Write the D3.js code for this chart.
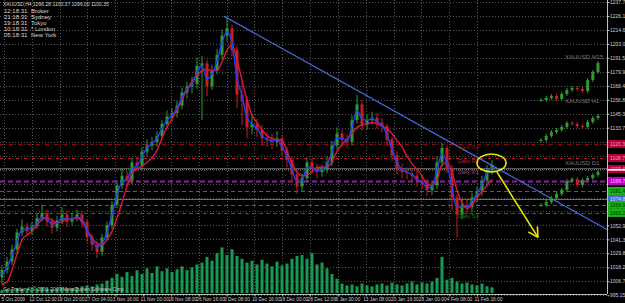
<!DOCTYPE html>
<html>
<head>
<meta charset="utf-8">
<script src="https://cdn.jsdelivr.net/npm/d3@7"></script>
<style>
html, body { margin: 0; padding: 0; background: #000; overflow: hidden; }
svg { display: block; }
text { font-family: "Liberation Sans", Arial, sans-serif; }
</style>
</head>
<body>
<div id="chart"></div>
<script>
// XAUUSD H4, Oct 2009 - Feb 2010 (one bar per ~5px)
var closes = [1016,1023,1033,1047,1052,1048,1052,1059,1063,1056,
  1051,1057,1062,1056,1059,1062,1056,1043,1037,1031,
  1043,1053,1070,1086,1094,1090,1105,1102,1114,1119,
  1122,1127,1137,1143,1146,1152,1163,1168,1170,1185,
  1187,1168,1181,1194,1210,1216,1198,1161,1157,1134,
  1137,1132,1125,1124,1122,1125,1115,1107,1095,1085,
  1092,1105,1100,1097,1099,1105,1119,1129,1124,1122,
  1140,1153,1136,1140,1142,1138,1135,1124,1111,1100,
  1097,1096,1094,1090,1088,1082,1086,1105,1117,1100,
  1076,1062,1070,1068,1076,1081,1090,1099,1103];
var highs = [1020,1027,1037,1050,1058,1055,1056,1063,1070,1066,
  1059,1061,1068,1065,1063,1066,1065,1058,1046,1040,
  1046,1056,1073,1090,1100,1098,1109,1110,1118,1124,
  1126,1131,1140,1148,1150,1156,1167,1172,1176,1192,
  1193,1190,1186,1199,1215,1226,1219,1201,1172,1160,
  1145,1141,1136,1130,1129,1131,1128,1118,1110,1098,
  1096,1109,1108,1104,1103,1110,1123,1134,1132,1128,
  1144,1161,1156,1145,1147,1146,1142,1137,1126,1114,
  1104,1101,1100,1098,1094,1091,1090,1110,1121,1119,
  1103,1079,1074,1074,1080,1085,1094,1103,1107];
var lows = [1004,1013,1020,1030,1044,1044,1045,1050,1056,1052,
  1046,1048,1054,1052,1053,1056,1051,1039,1032,1026,
  1028,1040,1050,1067,1083,1085,1087,1098,1099,1110,
  1115,1118,1124,1133,1139,1142,1149,1158,1162,1166,
  1140,1160,1165,1178,1190,1205,1193,1150,1136,1125,
  1128,1126,1119,1118,1116,1118,1110,1101,1090,1079,
  1081,1089,1096,1092,1093,1096,1102,1115,1118,1117,
  1119,1137,1131,1132,1136,1133,1130,1119,1106,1095,
  1092,1091,1089,1085,1083,1077,1078,1083,1101,1096,
  1065,1043,1058,1062,1064,1072,1077,1086,1095];
var fastMA = [1012,1018,1028,1040,1049,1050,1051,1055,1060,1058,
  1054,1055,1059,1058,1058,1060,1058,1049,1041,1035,
  1038,1047,1062,1078,1089,1091,1100,1102,1110,1117,
  1121,1125,1133,1140,1144,1150,1159,1166,1169,1180,
  1185,1174,1178,1189,1204,1213,1204,1175,1160,1142,
  1137,1133,1127,1124,1123,1124,1118,1110,1099,1089,
  1090,1101,1101,1098,1099,1103,1114,1125,1125,1123,
  1134,1148,1141,1140,1141,1139,1136,1128,1116,1105,
  1099,1097,1095,1091,1089,1084,1085,1099,1112,1104,
  1084,1068,1068,1068,1073,1079,1087,1096,1101];
var slowMA = [1004,1006,1016,1029,1041,1045,1048,1053,1058,1059,
  1057,1055,1056,1058,1058,1059,1056,1049,1043,1038,
  1037,1041,1048,1059,1072,1085,1096,1100,1102,1105,
  1109,1115,1125,1134,1141,1148,1157,1165,1172,1177,
  1181,1182,1181,1181,1188,1198,1202,1190,1173,1157,
  1144,1138,1132,1127,1125,1124,1123,1114,1104,1097,
  1094,1095,1097,1101,1101,1101,1106,1114,1120,1124,
  1129,1134,1136,1137,1138,1137,1135,1133,1129,1123,
  1118,1110,1104,1099,1094,1087,1086,1091,1103,1105,
  1097,1082,1072,1067,1070,1076,1081,1086,1091];
var volumes = [300,400,400,500,400,500,600,500,600,500,
  400,500,600,500,500,600,700,800,700,900,
  1000,1300,1600,2000,1700,2200,1800,2400,2000,2600,
  2100,2800,2300,2600,2200,2500,2800,2400,2700,3000,
  3200,3800,3400,4200,4800,4000,4600,3900,3600,3200,
  3400,3000,3500,3100,2800,3300,2900,3100,3600,3900,
  4000,3600,4200,3000,3200,2600,2000,1500,1000,800,
  900,700,1000,800,700,900,1000,800,1100,900,
  800,1000,1200,900,1100,1000,1200,1600,3800,1400,
  1600,1200,1000,1100,900,800,1000,700,600];

// small multi-timeframe windows on the right
var miniNames = ["XAUUSD M15", "XAUUSD H1", "XAUUSD D1"];
var miniM15 = [1156.7,1158.4,1160.0,1157.5,1161.7,1165.0,1166.6,1165.8,1164.1,1173.2,1179.9,1187.3];
var miniH1 = [1123.6,1127.0,1130.2,1131.9,1134.4,1137.7,1136.9,1135.2,1134.4,1138.5,1141.8,1143.5];
var miniD1 = [1069.9,1072.3,1075.6,1079.0,1082.3,1089.7,1091.4,1086.4,1090.5,1092.2,1094.7,1097.2];
var miniLabelPrice = [1190.5, 1154.0, 1102.5];

// pivot levels
var levelNames = ["Daily R3", "Daily R2", "Daily R1", "Daily PP", "Daily S1", "Support", "Daily S2", "Daily S3"];
var levelValues = [1120.3, 1108.7, 1099.6, 1089.7, 1081.4, 1074.8, 1069.9, 1063.2];
var bidPrice = 1100.35;

// trendline and annotation anchors (bar index, price)
var trendBars = [44.4, 121];
var trendPrices = [1226, 1049.5];
var circleBar = 97.9, circlePrice = 1104.6;
var arrowBars = [99, 107.2];
var arrowPrices = [1097, 1043];

var priceTicks = [1237.70,1226.15,1214.60,1203.05,1191.50,1179.95,1168.40,1156.85,1145.30,1133.75,
  1122.20,1110.65,1099.10,1087.55,1076.00,1064.45,1052.90,1041.35,1029.80,1018.25,1006.70,995.15];
var timeLabels = ["5 Oct 2009","12 Oct 12:00","19 Oct 20:00","27 Oct 04:00","3 Nov 16:00","11 Nov 00:00",
  "18 Nov 08:00","26 Nov 16:00","3 Dec 08:00","10 Dec 16:00","18 Dec 00:00","28 Dec 12:00",
  "6 Jan 00:00","13 Jan 08:00","20 Jan 16:00","28 Jan 00:00","4 Feb 08:00","11 Feb 16:00"];

var headerText = "XAUUSD,H4  1096.28 1100.37 1096.00 1100.35";
var clockTimes = ["12:18:31", "21:18:31", "19:18:31", "10:18:31", "05:18:31"];
var clockCities = ["Broker", "Sydney", "Tokyo", "* London", "New York"];
var footerText = "Go Trader 4, \u00a9 2001-2009 MetaQuotes Software Corp.";

var width = 625, height = 303, plotRight = 607, plotBottom = 294;

var svg = d3.select("#chart").append("svg")
  .attr("width", width).attr("height", height)
  .style("background", "#000");

var y = d3.scaleLinear().domain([997, 1239.4]).range([293, 0]);
var x = d3.scaleLinear().domain([0, closes.length - 1]).range([2, 492]);
var xt = d3.scaleLinear().domain([0, timeLabels.length - 1]).range([4, 477]);
var xm = d3.scaleLinear().domain([0, 11]).range([541, 598]);
var yv = d3.scaleLinear().domain([0, 6000]).range([293, 236]);

// grid
svg.append("g").selectAll("line").data(priceTicks).enter().append("line")
  .attr("x1", 0).attr("x2", plotRight)
  .attr("y1", function(d) { return Math.round(y(d)) + 0.5; })
  .attr("y2", function(d) { return Math.round(y(d)) + 0.5; })
  .attr("stroke", "#555").attr("stroke-dasharray", "1,2");
svg.append("g").selectAll("line").data(timeLabels).enter().append("line")
  .attr("x1", function(d, i) { return Math.round(xt(i)) + 0.5; })
  .attr("x2", function(d, i) { return Math.round(xt(i)) + 0.5; })
  .attr("y1", 0).attr("y2", plotBottom)
  .attr("stroke", "#555").attr("stroke-dasharray", "1,2");

// pivot lines
var levelStyle = [
  {c: "#8a1010", dash: "4,2,1,2", w: 1},
  {c: "#c02030", dash: "3,2,1,2", w: 1},
  {c: "#b04070", dash: "1,1", w: 1},
  {c: "#8a20a8", dash: "5,3", w: 2},
  {c: "#1f8a1f", dash: "4,3", w: 1},
  {c: "#4a6ad8", dash: null, w: 1.2},
  {c: "#1f8a1f", dash: "4,3", w: 1},
  {c: "#1a7a1a", dash: "4,3", w: 1}
];
svg.append("g").selectAll("line").data(levelValues).enter().append("line")
  .attr("x1", 0).attr("x2", plotRight)
  .attr("y1", function(d) { return Math.round(y(d)) + 0.5; })
  .attr("y2", function(d) { return Math.round(y(d)) + 0.5; })
  .attr("stroke", function(d, i) { return levelStyle[i].c; })
  .attr("stroke-width", function(d, i) { return levelStyle[i].w; })
  .attr("stroke-dasharray", function(d, i) { return levelStyle[i].dash; });
svg.append("line")
  .attr("x1", 0).attr("x2", plotRight)
  .attr("y1", Math.round(y(bidPrice)) + 0.5).attr("y2", Math.round(y(bidPrice)) + 0.5)
  .attr("stroke", "#6e6e6e").attr("stroke-width", 0.8);

// volumes
svg.append("g").selectAll("rect").data(volumes).enter().append("rect")
  .attr("x", function(d, i) { return x(i) - 1.5; })
  .attr("width", 3)
  .attr("y", function(d) { return yv(d); })
  .attr("height", function(d) { return yv(0) - yv(d); })
  .attr("fill", "#189a55");

// candles
var bars = closes.map(function(c, i) {
  return {i: i, o: i ? closes[i - 1] : c - 6, c: c, h: highs[i], l: lows[i]};
});
var candle = svg.append("g").selectAll("g").data(bars).enter().append("g");
candle.append("line")
  .attr("x1", function(d) { return x(d.i); }).attr("x2", function(d) { return x(d.i); })
  .attr("y1", function(d) { return y(d.h); }).attr("y2", function(d) { return y(d.l); })
  .attr("stroke", function(d) { return d.c >= d.o ? "#2f9a2f" : "#c42020"; });
candle.append("rect")
  .attr("x", function(d) { return x(d.i) - 1.5; })
  .attr("width", 3)
  .attr("y", function(d) { return y(Math.max(d.o, d.c)); })
  .attr("height", function(d) { return Math.max(1, Math.abs(y(d.o) - y(d.c))); })
  .attr("fill", function(d) { return d.c >= d.o ? "#2f9a2f" : "#c42020"; });

// moving averages
var maLine = d3.line()
  .x(function(d, i) { return x(i); })
  .y(function(d) { return y(d); })
  .curve(d3.curveMonotoneX);
svg.append("path").datum(slowMA).attr("d", maLine)
  .attr("fill", "none").attr("stroke", "#e0143c").attr("stroke-width", 1.4);
svg.append("path").datum(fastMA).attr("d", maLine)
  .attr("fill", "none").attr("stroke", "#2040ff").attr("stroke-width", 1.4);

// trendline
svg.append("line")
  .attr("x1", x(trendBars[0])).attr("y1", y(trendPrices[0]))
  .attr("x2", x(trendBars[1])).attr("y2", y(trendPrices[1]))
  .attr("stroke", "#4a6ee6").attr("stroke-width", 1.2);

// mini timeframe charts
[miniM15, miniH1, miniD1].forEach(function(series, k) {
  var g = svg.append("g");
  g.append("text")
    .attr("x", 565).attr("y", y(miniLabelPrice[k]))
    .attr("font-size", 6).attr("fill", "#7a7a7a")
    .text(miniNames[k]);
  var mb = series.map(function(c, i) { return {i: i, o: i ? series[i - 1] : c, c: c}; });
  g.selectAll("line").data(mb).enter().append("line")
    .attr("x1", function(d) { return xm(d.i); }).attr("x2", function(d) { return xm(d.i); })
    .attr("y1", function(d) { return y(Math.max(d.o, d.c)) - 2; })
    .attr("y2", function(d) { return y(Math.min(d.o, d.c)) + 2; })
    .attr("stroke", function(d) { return d.c >= d.o ? "#2f9a2f" : "#c42020"; });
  g.selectAll("rect").data(mb).enter().append("rect")
    .attr("x", function(d) { return xm(d.i) - 1.5; }).attr("width", 3)
    .attr("y", function(d) { return y(Math.max(d.o, d.c)); })
    .attr("height", function(d) { return Math.max(1, Math.abs(y(d.o) - y(d.c))); })
    .attr("fill", function(d) { return d.c >= d.o ? "#2f9a2f" : "#c42020"; });
});

// level captions
var shownLevels = [0, 1, 2, 7];
svg.append("g").selectAll("text").data(shownLevels).enter().append("text")
  .attr("x", x(91.2))
  .attr("y", function(k) { return y(levelValues[k]) + 5; })
  .attr("font-size", 5.5)
  .attr("fill", function(k) { return levelStyle[k].c; })
  .text(function(k) { return levelNames[k]; });

// frame
svg.append("line").attr("x1", plotRight + 0.5).attr("x2", plotRight + 0.5)
  .attr("y1", 0).attr("y2", plotBottom).attr("stroke", "#bdbdbd");
svg.append("line").attr("x1", 0).attr("x2", plotRight)
  .attr("y1", plotBottom + 0.5).attr("y2", plotBottom + 0.5).attr("stroke", "#bdbdbd");

// price axis: labels hidden under the level boxes are not drawn
var visibleTicks = priceTicks.filter(function(t) {
  return levelValues.every(function(v) { return Math.abs(y(t) - y(v)) > 6; });
});
var yAxis = svg.append("g")
  .attr("transform", "translate(" + (plotRight + 0.5) + ",0)")
  .call(d3.axisRight(y).tickValues(visibleTicks).tickFormat(d3.format(".2f")).tickSize(2).tickPadding(0.5));
yAxis.select(".domain").remove();
yAxis.selectAll("line").attr("stroke", "#bdbdbd");
yAxis.selectAll("text").attr("font-size", 5).attr("fill", "#cfcfcf")
  .attr("font-family", "Liberation Sans, Arial, sans-serif");

// time axis
var xAxis = svg.append("g")
  .attr("transform", "translate(0," + (plotBottom + 0.5) + ")")
  .call(d3.axisBottom(xt).tickValues(d3.range(timeLabels.length))
    .tickFormat(function(i) { return timeLabels[i]; }).tickSize(2).tickPadding(1));
xAxis.select(".domain").remove();
xAxis.selectAll("line").attr("stroke", "#bdbdbd");
xAxis.selectAll("text").attr("font-size", 4.8).attr("fill", "#cfcfcf")
  .attr("text-anchor", "start").attr("dx", -3)
  .attr("font-family", "Liberation Sans, Arial, sans-serif");

// level boxes on the price scale
var boxFill = ["#b0003a", "#b0003a", "#b0003a", "#c000c0", "#18b018", "#4a66cc", "#18b018", "#18b018"];
var boxText = ["#ff9ab8", "#ff9ab8", "#ff9ab8", "#ffb0ff", "#003300", "#dde4ff", "#003300", "#003300"];
var boxes = svg.append("g").selectAll("g").data(levelValues).enter().append("g");
boxes.append("rect")
  .attr("x", plotRight + 1).attr("width", width - plotRight - 1)
  .attr("y", function(d) { return y(d) - 4; }).attr("height", 8)
  .attr("fill", function(d, i) { return boxFill[i]; });
boxes.append("text")
  .attr("x", plotRight + 3).attr("y", function(d) { return y(d) + 2; })
  .attr("font-size", 5)
  .attr("fill", function(d, i) { return boxText[i]; })
  .text(function(d) { return d.toFixed(2); });
svg.append("rect")
  .attr("x", plotRight + 1).attr("width", width - plotRight - 1)
  .attr("y", y(bidPrice) + 1).attr("height", 1.5).attr("fill", "#ffffff");

// header and clocks
svg.append("text").attr("x", 3).attr("y", 6).attr("font-size", 5)
  .attr("fill", "#d8d8d8").text(headerText);
var clocks = svg.append("g").selectAll("g").data(clockTimes).enter().append("g")
  .attr("transform", function(d, i) { return "translate(4," + (12.5 + i * 6) + ")"; });
clocks.append("text").attr("font-size", 6).attr("fill", "#d8d8d8").text(function(d) { return d; });
clocks.append("text").attr("x", 27).attr("font-size", 6).attr("fill", "#d8d8d8")
  .text(function(d, i) { return clockCities[i]; });

svg.append("text").attr("x", 3).attr("y", 291).attr("font-size", 5)
  .attr("fill", "#c8c8c8").text(footerText);

// yellow annotation
var cx = x(circleBar), cy = y(circlePrice);
svg.append("ellipse")
  .attr("cx", cx).attr("cy", cy)
  .attr("rx", x(circleBar + 2.9) - cx).attr("ry", y(circlePrice - 7.4) - cy)
  .attr("fill", "none").attr("stroke", "#e8e800").attr("stroke-width", 1.6);
var ax1 = x(arrowBars[0]), ay1 = y(arrowPrices[0]);
var ax2 = x(arrowBars[1]), ay2 = y(arrowPrices[1]);
svg.append("line").attr("x1", ax1).attr("y1", ay1).attr("x2", ax2).attr("y2", ay2)
  .attr("stroke", "#e8e800").attr("stroke-width", 1.6);
var ang = Math.atan2(ay2 - ay1, ax2 - ax1), len = 11;
[0.5, -0.5].forEach(function(off) {
  svg.append("line")
    .attr("x1", ax2).attr("y1", ay2)
    .attr("x2", ax2 - len * Math.cos(ang + off)).attr("y2", ay2 - len * Math.sin(ang + off))
    .attr("stroke", "#e8e800").attr("stroke-width", 1.6);
});
</script>
</body>
</html>
